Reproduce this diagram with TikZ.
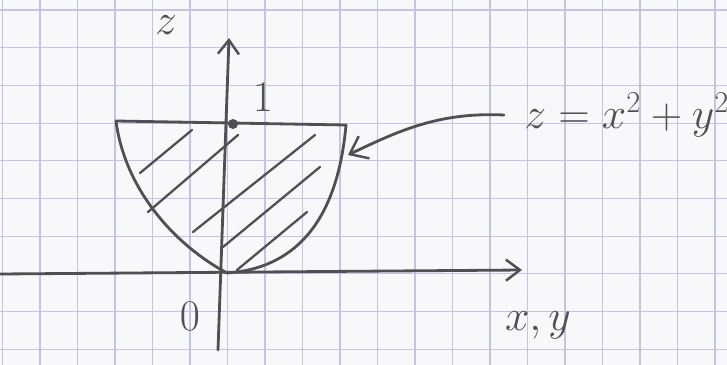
\documentclass[tikz,border=0pt]{standalone}
\usetikzlibrary{arrows.meta}
\definecolor{paper}{RGB}{248,248,250}
\definecolor{gridc}{RGB}{195,195,228}
\definecolor{pencil}{RGB}{80,80,82}
\tikzset{
  gridline/.style={draw=gridc,line width=0.6pt},
  pen/.style={draw=pencil,line width=1.6pt,line cap=round,line join=round},
  hatchline/.style={draw=pencil,line width=1.3pt,line cap=round},
  lbl/.style={text=pencil,inner sep=0pt},
  axisarrow/.style={pen,-{Straight Barb[length=8pt,width=12pt,line width=1.4pt]}},
}
\begin{document}
\begin{tikzpicture}[x=0.02cm,y=-0.02cm]
\fill[paper] (0,0) rectangle (727,365);
\useasboundingbox (0,0) rectangle (727,365);
% grid paper
\foreach \i in {0,...,19} \draw[gridline] ({2.5+37.5*\i},0) -- ++(0,365);
\foreach \i in {0,...,9} \draw[gridline] (0,{10+37.7*\i}) -- ++(727,0);
% named points
\coordinate (O) at (227,273);
\coordinate (xs) at (0,274);
\coordinate (xe) at (522,270);
\coordinate (zs) at (218,350);
\coordinate (ze) at (229,38);
\coordinate (TL) at (116,121);
\coordinate (TR) at (346,125);
\coordinate (P) at (348,155);
% axes
\draw[axisarrow] (xs) -- (xe);
\draw[axisarrow] (zs) -- (ze);
% bowl
\draw[pen] (TL) .. controls (125,190) and (175,245) .. (O);
\draw[pen] (O) .. controls (300,268) and (338,215) .. (TR);
\draw[pen] (TL) -- (TR);
\fill[pencil] (233,124) circle (5);
% hatching
\draw[hatchline] (140,173) -- (192,130);
\draw[hatchline] (148,212) -- (238,135);
\draw[hatchline] (193,232) -- (315,135);
\draw[hatchline] (223,247) -- (320,167);
\draw[hatchline] (237,270) -- (307,212);
% labels
\node[lbl,font=\fontsize{24}{28}\selectfont] (zl) at (166,25) {$z$};
\node[lbl,font=\fontsize{24}{28}\selectfont] (one) at (263,97) {$1$};
\node[lbl,font=\fontsize{28}{32}\selectfont] (zero) at (190,316) {$0$};
\node[lbl,font=\fontsize{24}{28}\selectfont] (xy) at (538,325) {$x,y$};
\node[lbl,font=\fontsize{23}{27}\selectfont,anchor=west] (eq) at (524,115) {$z=x^2+y^2$};
% pointer
\draw[pen,-{Straight Barb[length=9pt,width=14pt,line width=1.4pt]}] ([xshift=-0.4cm]eq.west) .. controls (440,112) and (400,130) .. (P);
\end{tikzpicture}
\end{document}
